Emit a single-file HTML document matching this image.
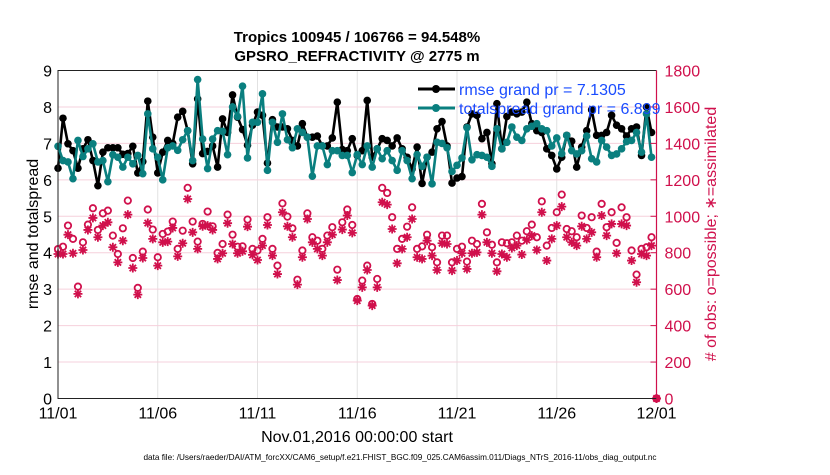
<!DOCTYPE html>
<html><head><meta charset="utf-8"><style>
body{margin:0;background:#fff;width:830px;height:470px;overflow:hidden;font-family:"Liberation Sans",sans-serif}
svg text{font-family:"Liberation Sans",sans-serif}
</style></head><body>
<svg id="chart" width="830" height="470" xmlns="http://www.w3.org/2000/svg">
<rect width="830" height="470" fill="#fff"/>
<g id="grid"></g>
<g id="series"></g>
<g id="axes"></g>
<text x="357" y="42" text-anchor="middle" font-size="15" font-weight="bold">Tropics 100945 / 106766 = 94.548%</text>
<text x="357" y="61" text-anchor="middle" font-size="15" font-weight="bold">GPSRO_REFRACTIVITY @ 2775 m</text>
<text transform="translate(38,234) rotate(-90)" text-anchor="middle" font-size="16">rmse and totalspread</text>
<text transform="translate(716,234) rotate(-90)" text-anchor="middle" font-size="16" fill="#d0104c">&#35; of obs: o=possible; &#8727;=assimilated</text>
<text x="357" y="442" text-anchor="middle" font-size="16">Nov.01,2016 00:00:00 start</text>
<text x="400" y="460" text-anchor="middle" font-size="8.2">data file: /Users/raeder/DAI/ATM_forcXX/CAM6_setup/f.e21.FHIST_BGC.f09_025.CAM6assim.011/Diags_NTrS_2016-11/obs_diag_output.nc</text>
<g>
<line x1="418" y1="89" x2="455" y2="89" stroke="#000" stroke-width="3"/>
<circle cx="436" cy="89" r="4" fill="#000"/>
<text x="459" y="95" font-size="16" fill="#1a4cff">rmse grand pr = 7.1305</text>
<line x1="418" y1="108" x2="455" y2="108" stroke="#0a7f7f" stroke-width="3"/>
<circle cx="436" cy="108" r="4" fill="#0a7f7f"/>
<text x="459" y="114" font-size="16" fill="#1a4cff">totalspread grand pr = 6.899</text>
</g>
</svg>
<script>
const rmse=[6.32,7.69,6.99,6.8,6.32,6.85,7.1,6.53,5.84,6.76,6.88,6.88,6.88,6.7,6.72,6.92,6.19,6.5,8.16,7.17,6.19,6.76,7.08,7.0,7.72,7.88,7.35,6.44,8.22,6.72,6.78,6.93,6.35,7.67,7.3,8.33,7.72,7.38,6.95,7.5,7.86,
7.77,6.46,7.65,7.45,7.45,7.4,7.08,6.93,7.54,7.17,7.17,7.2,6.93,6.93,7.15,8.13,6.83,6.8,7.13,6.67,6.8,8.18,6.62,6.85,7.13,7.08,6.93,7.15,6.85,6.62,6.3,6.9,5.9,6.62,6.76,7.4,7.6,6.93,5.91,6.05,
6.09,7.45,7.81,7.77,7.13,7.3,6.44,8.09,6.85,7.74,7.86,7.81,7.86,8.13,7.54,7.35,7.3,6.85,6.67,6.3,6.62,7.22,7.06,6.35,6.9,7.35,7.92,7.22,7.22,7.3,7.77,7.5,7.4,7.2,7.4,7.45,6.67,8.0,7.3];
const spread=[6.92,6.53,6.49,6.03,7.08,6.64,6.85,6.99,6.49,6.53,5.95,6.69,6.62,6.35,6.62,6.44,6.67,6.17,7.81,6.85,6.62,6.0,6.88,6.93,6.81,7.1,7.35,6.53,8.75,7.12,6.31,7.12,7.35,7.33,6.69,8.0,7.74,8.57,6.6,7.58,7.58,
8.36,6.26,7.58,7.03,7.81,7.1,6.88,7.4,7.3,7.17,6.1,6.93,6.93,6.42,6.8,6.8,6.67,6.67,6.2,6.69,6.42,6.93,6.35,6.85,6.58,6.8,6.53,6.26,6.8,6.53,6.03,6.69,6.37,6.62,5.89,7.03,7.0,6.88,6.23,6.4,
6.6,7.43,6.55,6.69,6.67,6.62,6.37,7.4,6.85,7.03,7.45,7.17,7.08,7.4,7.47,7.54,7.4,7.35,6.93,7.15,6.72,7.22,6.8,6.71,6.8,7.2,6.58,6.49,7.08,6.9,6.67,6.71,6.85,7.05,7.08,7.3,6.76,7.81,6.62];
const possible=[820,833,949,876,614,857,954,1044,925,1016,1031,894,793,934,1086,771,607,806,1037,927,775,903,916,971,821,921,1156,971,861,958,1026,945,799,848,1009,899,833,835,982,821,812,
876,995,821,729,1071,998,934,652,812,1016,885,866,821,894,940,707,967,1037,952,546,647,729,519,656,1156,1128,995,821,876,943,1049,821,835,899,830,747,894,894,747,821,
833,751,866,848,1068,912,844,747,857,852,857,894,866,918,954,885,1082,839,936,1022,1119,930,918,885,1004,936,995,806,1068,940,1022,854,1049,995,812,680,821,830,885,0];
const assimilated=[793,793,899,797,574,815,925,991,885,949,967,830,747,866,1009,716,570,771,963,876,729,857,861,936,780,852,1095,912,821,945,949,925,766,797,962,848,797,808,943,788,760,
839,952,784,683,1022,945,885,625,775,985,857,821,784,857,899,650,927,1004,909,537,610,705,510,610,1077,1064,930,742,821,885,985,775,766,866,784,705,852,848,702,757,
797,711,797,802,1009,857,797,698,793,775,826,839,790,870,894,815,1022,757,876,949,1053,885,857,839,945,876,912,775,1004,894,958,797,958,949,757,638,793,784,839,0];
const leftTicks=[0,1,2,3,4,5,6,7,8,9];
const rightTicks=[0,200,400,600,800,1000,1200,1400,1600,1800];
const xTickLabels=["11/01","11/06","11/11","11/16","11/21","11/26","12/01"];
const xTickDays=[0,5,10,15,20,25,30];

const X0=58,X1=656.5,YT=70.5,YB=398.5;
const NS='http://www.w3.org/2000/svg';
const xDay=d=>X0+(X1-X0)*d/30;
const xIdx=i=>xDay(i/4);
const yL=v=>YB-(YB-YT)*v/9;
const yR=v=>YB-(YB-YT)*v/1800;
function mk(tag,attrs,parent){const e=document.createElementNS(NS,tag);for(const k in attrs)e.setAttribute(k,attrs[k]);parent.appendChild(e);return e;}
const grid=document.getElementById('grid'),ser=document.getElementById('series'),ax=document.getElementById('axes');

xTickDays.forEach((d,i)=>{
 const l=mk('line',{x1:xDay(d),x2:xDay(d),y1:YT,y2:YB,stroke:'#e2e2e2','stroke-width':1},grid);
 
 
 const t=mk('text',{x:xDay(d),y:YB+20,'text-anchor':'middle','font-size':16},ax);
 t.textContent=xTickLabels[i];
 
 
});
rightTicks.forEach(v=>{
 const l=mk('line',{x1:X0,x2:X1,y1:yR(v),y2:yR(v),stroke:'#f6d0dc','stroke-width':1},grid);
 
 
 mk('line',{x1:X1-6,x2:X1,y1:yR(v),y2:yR(v),stroke:'#d0104c'},ax);
 const t=mk('text',{x:X1+8,y:yR(v)+6,'font-size':16,fill:'#d0104c'},ax);
 t.textContent=v;
 
 
});
leftTicks.forEach(v=>{
 const t=mk('text',{x:X0-6,y:yL(v)+6,'text-anchor':'end','font-size':16},ax);
 t.textContent=v;
 
 
});
const frame=mk('path',{d:`M${X1},${YT}H${X0}V${YB}H${X1}`,fill:'none',stroke:'#222','stroke-width':1},ax);


const ra=mk('line',{x1:X1,x2:X1,y1:YT,y2:YB,stroke:'#d0104c','stroke-width':1.2},ax);



possible.forEach((v,i)=>{
 const c=mk('circle',{cx:xIdx(i),cy:yR(v),r:3.2,fill:'none',stroke:'#d0104c','stroke-width':1.8},ser);
 
 
});
assimilated.forEach((v,i)=>{
 const x=xIdx(i),y=yR(v),r=4.5,q=r*0.707;
 const d=`M${x-r},${y}H${x+r}M${x},${y-r}V${y+r}M${x-q},${y-q}L${x+q},${y+q}M${x-q},${y+q}L${x+q},${y-q}`;
 const p=mk('path',{d:d,stroke:'#d0104c','stroke-width':1.8,fill:'none'},ser);
 
 
});
function line(arr,col,name){
 const p=mk('polyline',{points:arr.map((v,i)=>xIdx(i)+','+yL(v)).join(' '),fill:'none',stroke:col,'stroke-width':2.6,'stroke-linejoin':'round'},ser);
 
 
 arr.forEach((v,i)=>{
  const c=mk('circle',{cx:xIdx(i),cy:yL(v),r:3.8,fill:col},ser);
  
  
 });
}
line(rmse,'#000','rmse');
line(spread,'#0a7f7f','totalspread');
</script>
</body></html>
